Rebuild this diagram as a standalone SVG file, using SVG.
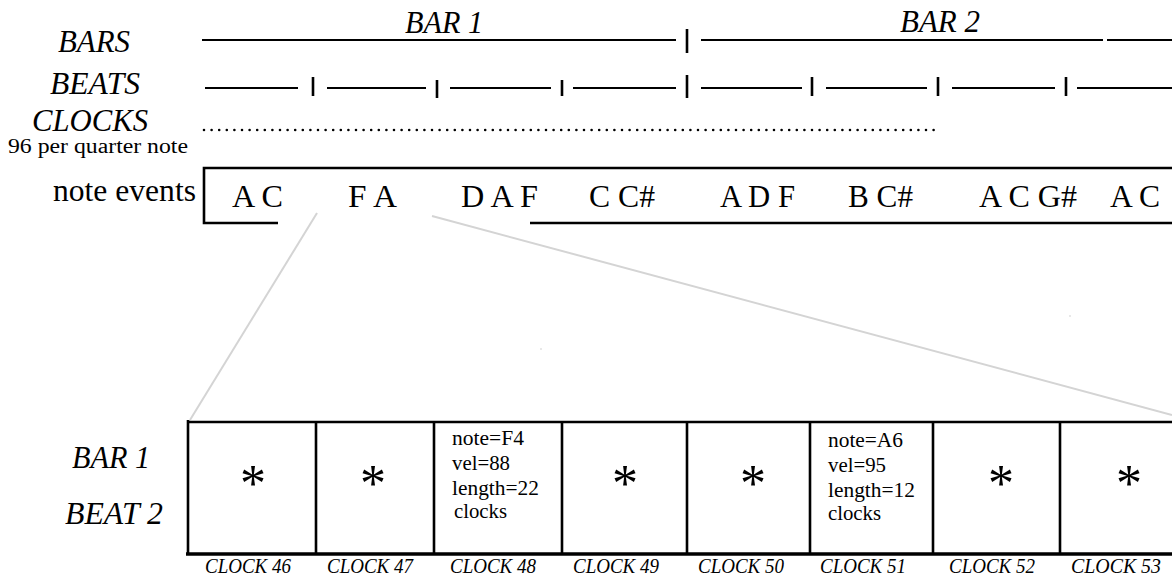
<svg xmlns="http://www.w3.org/2000/svg" width="1172" height="579" viewBox="0 0 1172 579">
<style>
text{font-family:"Liberation Serif","Tinos","DejaVu Serif",serif;fill:#000}
.it{font-style:italic;font-size:31px}
.rm{font-size:31px}
.cell{font-size:22px}
.clk{font-style:italic;font-size:22px}
.star{font-size:52px;text-anchor:middle}
.ln{stroke:#000;stroke-width:2;fill:none}
.tk{stroke:#000;stroke-width:2.6;fill:none}
.bx{stroke:#000;stroke-width:2.6;fill:none}
.gr{stroke:#d4d4d4;stroke-width:2;fill:none}
</style>
<rect width="1172" height="579" fill="#fff"/>

<g id="labels">
<text class="it" x="58" y="52" textLength="72" lengthAdjust="spacingAndGlyphs">BARS</text>
<text class="it" x="50" y="94" textLength="90" lengthAdjust="spacingAndGlyphs">BEATS</text>
<text class="it" x="32" y="131" textLength="116" lengthAdjust="spacingAndGlyphs">CLOCKS</text>
<text class="rm" x="8" y="153" style="font-size:20px" textLength="180" lengthAdjust="spacingAndGlyphs">96 per quarter note</text>
<text class="rm" x="53" y="201" textLength="143" lengthAdjust="spacingAndGlyphs">note events</text>
</g>

<g id="bars">
<text class="it" x="405" y="33" textLength="78" lengthAdjust="spacingAndGlyphs">BAR 1</text>
<text class="it" x="900" y="32" textLength="80" lengthAdjust="spacingAndGlyphs">BAR 2</text>
<path class="ln" d="M202 40H676M701 40H1103M1107 40H1172"/>
<path class="tk" d="M687 29V53"/>
</g>

<g id="beats">
<path class="ln" d="M205 88H298M327 88H426M450 88H551M573 88H676M701 88H802M826 88H927M952 88H1055M1077 88H1172"/>
<path class="tk" d="M313 77V96M437 80V98M562 80V96M687 75V98M812 77V96M938 77V96M1066 77V96"/>
</g>

<g id="clocks">
<path d="M204 130H934" stroke="#000" stroke-width="2.6" stroke-linecap="round" stroke-dasharray="0 7.6" fill="none"/>
</g>

<g id="note-events">
<path class="bx" d="M278 223H204V168H1172M530 223H1172"/>
<text class="rm" x="232" y="207" textLength="51" lengthAdjust="spacingAndGlyphs">A C</text>
<text class="rm" x="348" y="207" textLength="49" lengthAdjust="spacingAndGlyphs">F A</text>
<text class="rm" x="461" y="207" textLength="77" lengthAdjust="spacingAndGlyphs">D A F</text>
<text class="rm" x="589" y="207" textLength="66" lengthAdjust="spacingAndGlyphs">C C#</text>
<text class="rm" x="720" y="207" textLength="75" lengthAdjust="spacingAndGlyphs">A D F</text>
<text class="rm" x="848" y="207" textLength="65" lengthAdjust="spacingAndGlyphs">B C#</text>
<text class="rm" x="979" y="207" textLength="98" lengthAdjust="spacingAndGlyphs">A C G#</text>
<text class="rm" x="1110" y="207" textLength="50" lengthAdjust="spacingAndGlyphs">A C</text>
</g>

<g id="connectors">
<path class="gr" d="M317 213L190 420"/>
<path class="gr" d="M432 216L1172 415"/>
<circle cx="541" cy="349" r="1" fill="#e0e0e0"/>
<circle cx="1070" cy="316" r="1" fill="#e0e0e0"/>
</g>

<g id="detail">
<text class="it" x="72" y="468" textLength="78" lengthAdjust="spacingAndGlyphs">BAR 1</text>
<text class="it" x="65" y="524" textLength="98" lengthAdjust="spacingAndGlyphs">BEAT 2</text>
<path class="bx" d="M188 422H1172M188 420V554M316 422V554M434 422V554M562 422V554M687 422V554M810 422V554M933 422V554M1060 422V554"/>
<path d="M186 554H1172" stroke="#000" stroke-width="3.6" fill="none"/>
</g>

<g id="cells">
<text class="star" x="253" y="501">*</text>
<text class="star" x="373" y="501">*</text>
<g id="cell-48">
<text class="cell" x="452" y="445" textLength="72" lengthAdjust="spacingAndGlyphs">note=F4</text>
<text class="cell" x="452" y="470" textLength="58" lengthAdjust="spacingAndGlyphs">vel=88</text>
<text class="cell" x="452" y="495" textLength="87" lengthAdjust="spacingAndGlyphs">length=22</text>
<text class="cell" x="454" y="518" textLength="53" lengthAdjust="spacingAndGlyphs">clocks</text>
</g>
<text class="star" x="625" y="501">*</text>
<text class="star" x="753" y="501">*</text>
<g id="cell-51">
<text class="cell" x="828" y="447" textLength="75" lengthAdjust="spacingAndGlyphs">note=A6</text>
<text class="cell" x="828" y="472" textLength="58" lengthAdjust="spacingAndGlyphs">vel=95</text>
<text class="cell" x="828" y="497" textLength="87" lengthAdjust="spacingAndGlyphs">length=12</text>
<text class="cell" x="828" y="520" textLength="53" lengthAdjust="spacingAndGlyphs">clocks</text>
</g>
<text class="star" x="1001" y="501">*</text>
<text class="star" x="1129" y="501">*</text>
</g>

<g id="clock-labels">
<text class="clk" x="205" y="573" textLength="86" lengthAdjust="spacingAndGlyphs">CLOCK 46</text>
<text class="clk" x="327" y="573" textLength="86" lengthAdjust="spacingAndGlyphs">CLOCK 47</text>
<text class="clk" x="450" y="573" textLength="86" lengthAdjust="spacingAndGlyphs">CLOCK 48</text>
<text class="clk" x="573" y="573" textLength="86" lengthAdjust="spacingAndGlyphs">CLOCK 49</text>
<text class="clk" x="698" y="573" textLength="86" lengthAdjust="spacingAndGlyphs">CLOCK 50</text>
<text class="clk" x="820" y="573" textLength="86" lengthAdjust="spacingAndGlyphs">CLOCK 51</text>
<text class="clk" x="949" y="573" textLength="86" lengthAdjust="spacingAndGlyphs">CLOCK 52</text>
<text class="clk" x="1071" y="573" textLength="90" lengthAdjust="spacingAndGlyphs">CLOCK 53</text>
</g>
</svg>
